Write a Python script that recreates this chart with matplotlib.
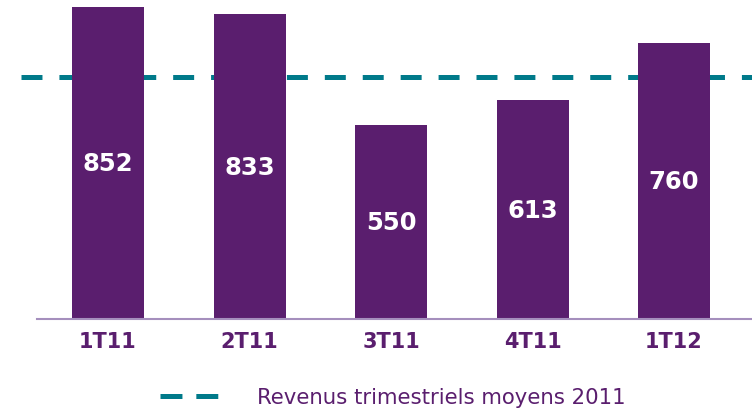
import matplotlib
matplotlib.use("Agg")
import matplotlib.pyplot as plt

# quarterly revenue values
quarters = ["1T11", "2T11", "3T11", "4T11", "1T12"]
revenue = [852, 833, 550, 613, 760]
avg_2011 = 674  # level of the dashed line as drawn
legend_label = "Revenus trimestriels moyens 2011"

purple = "#5a1e6e"
teal = "#007a8a"
axis_col = "#a58fbd"

plt.rcParams["lines.scale_dashes"] = False

fig = plt.figure(figsize=(7.52, 4.10), dpi=100)
W, H = 752, 410
ax = fig.add_axes([21 / W, 1 - 320 / H, 1 - 21 / W, 320 / H])

ymin, ymax = 53.6, 872.6
x = list(range(len(quarters)))

# dashed average line sits behind the bars
ax.axhline(avg_2011, color=teal, lw=3.6, dashes=(15.1, 12.2),
           dash_capstyle="butt", zorder=1, label=legend_label)
ax.bar(x, revenue, width=0.509, color=purple, zorder=2)

for xi, v in zip(x, revenue):
    ax.text(xi, (v + ymin) / 2, str(v), ha="center", va="center",
            color="white", fontsize=17.5, fontweight="bold", zorder=3)

ax.set_ylim(ymin, ymax)
ax.set_xlim(-0.615, 4.551)
ax.set_xticks(x)
ax.set_xticklabels(quarters, fontsize=15, fontweight="bold", color=purple)
ax.tick_params(axis="x", length=0, pad=9)
ax.set_yticks([])
for s in ["top", "right", "left"]:
    ax.spines[s].set_visible(False)
ax.spines["bottom"].set_color(axis_col)
ax.spines["bottom"].set_linewidth(1.5)
ax.spines["bottom"].set_bounds(-0.502, 4.551)

leg = fig.legend(loc="center", bbox_to_anchor=(393 / W, 1 - 398 / H),
                 frameon=False, fontsize=15.3, handlelength=2.74,
                 handletextpad=1.84)
for t in leg.get_texts():
    t.set_color(purple)
leg.get_lines()[0].set_dashes((15.8, 10))

fig.savefig("out.png", dpi=100)
